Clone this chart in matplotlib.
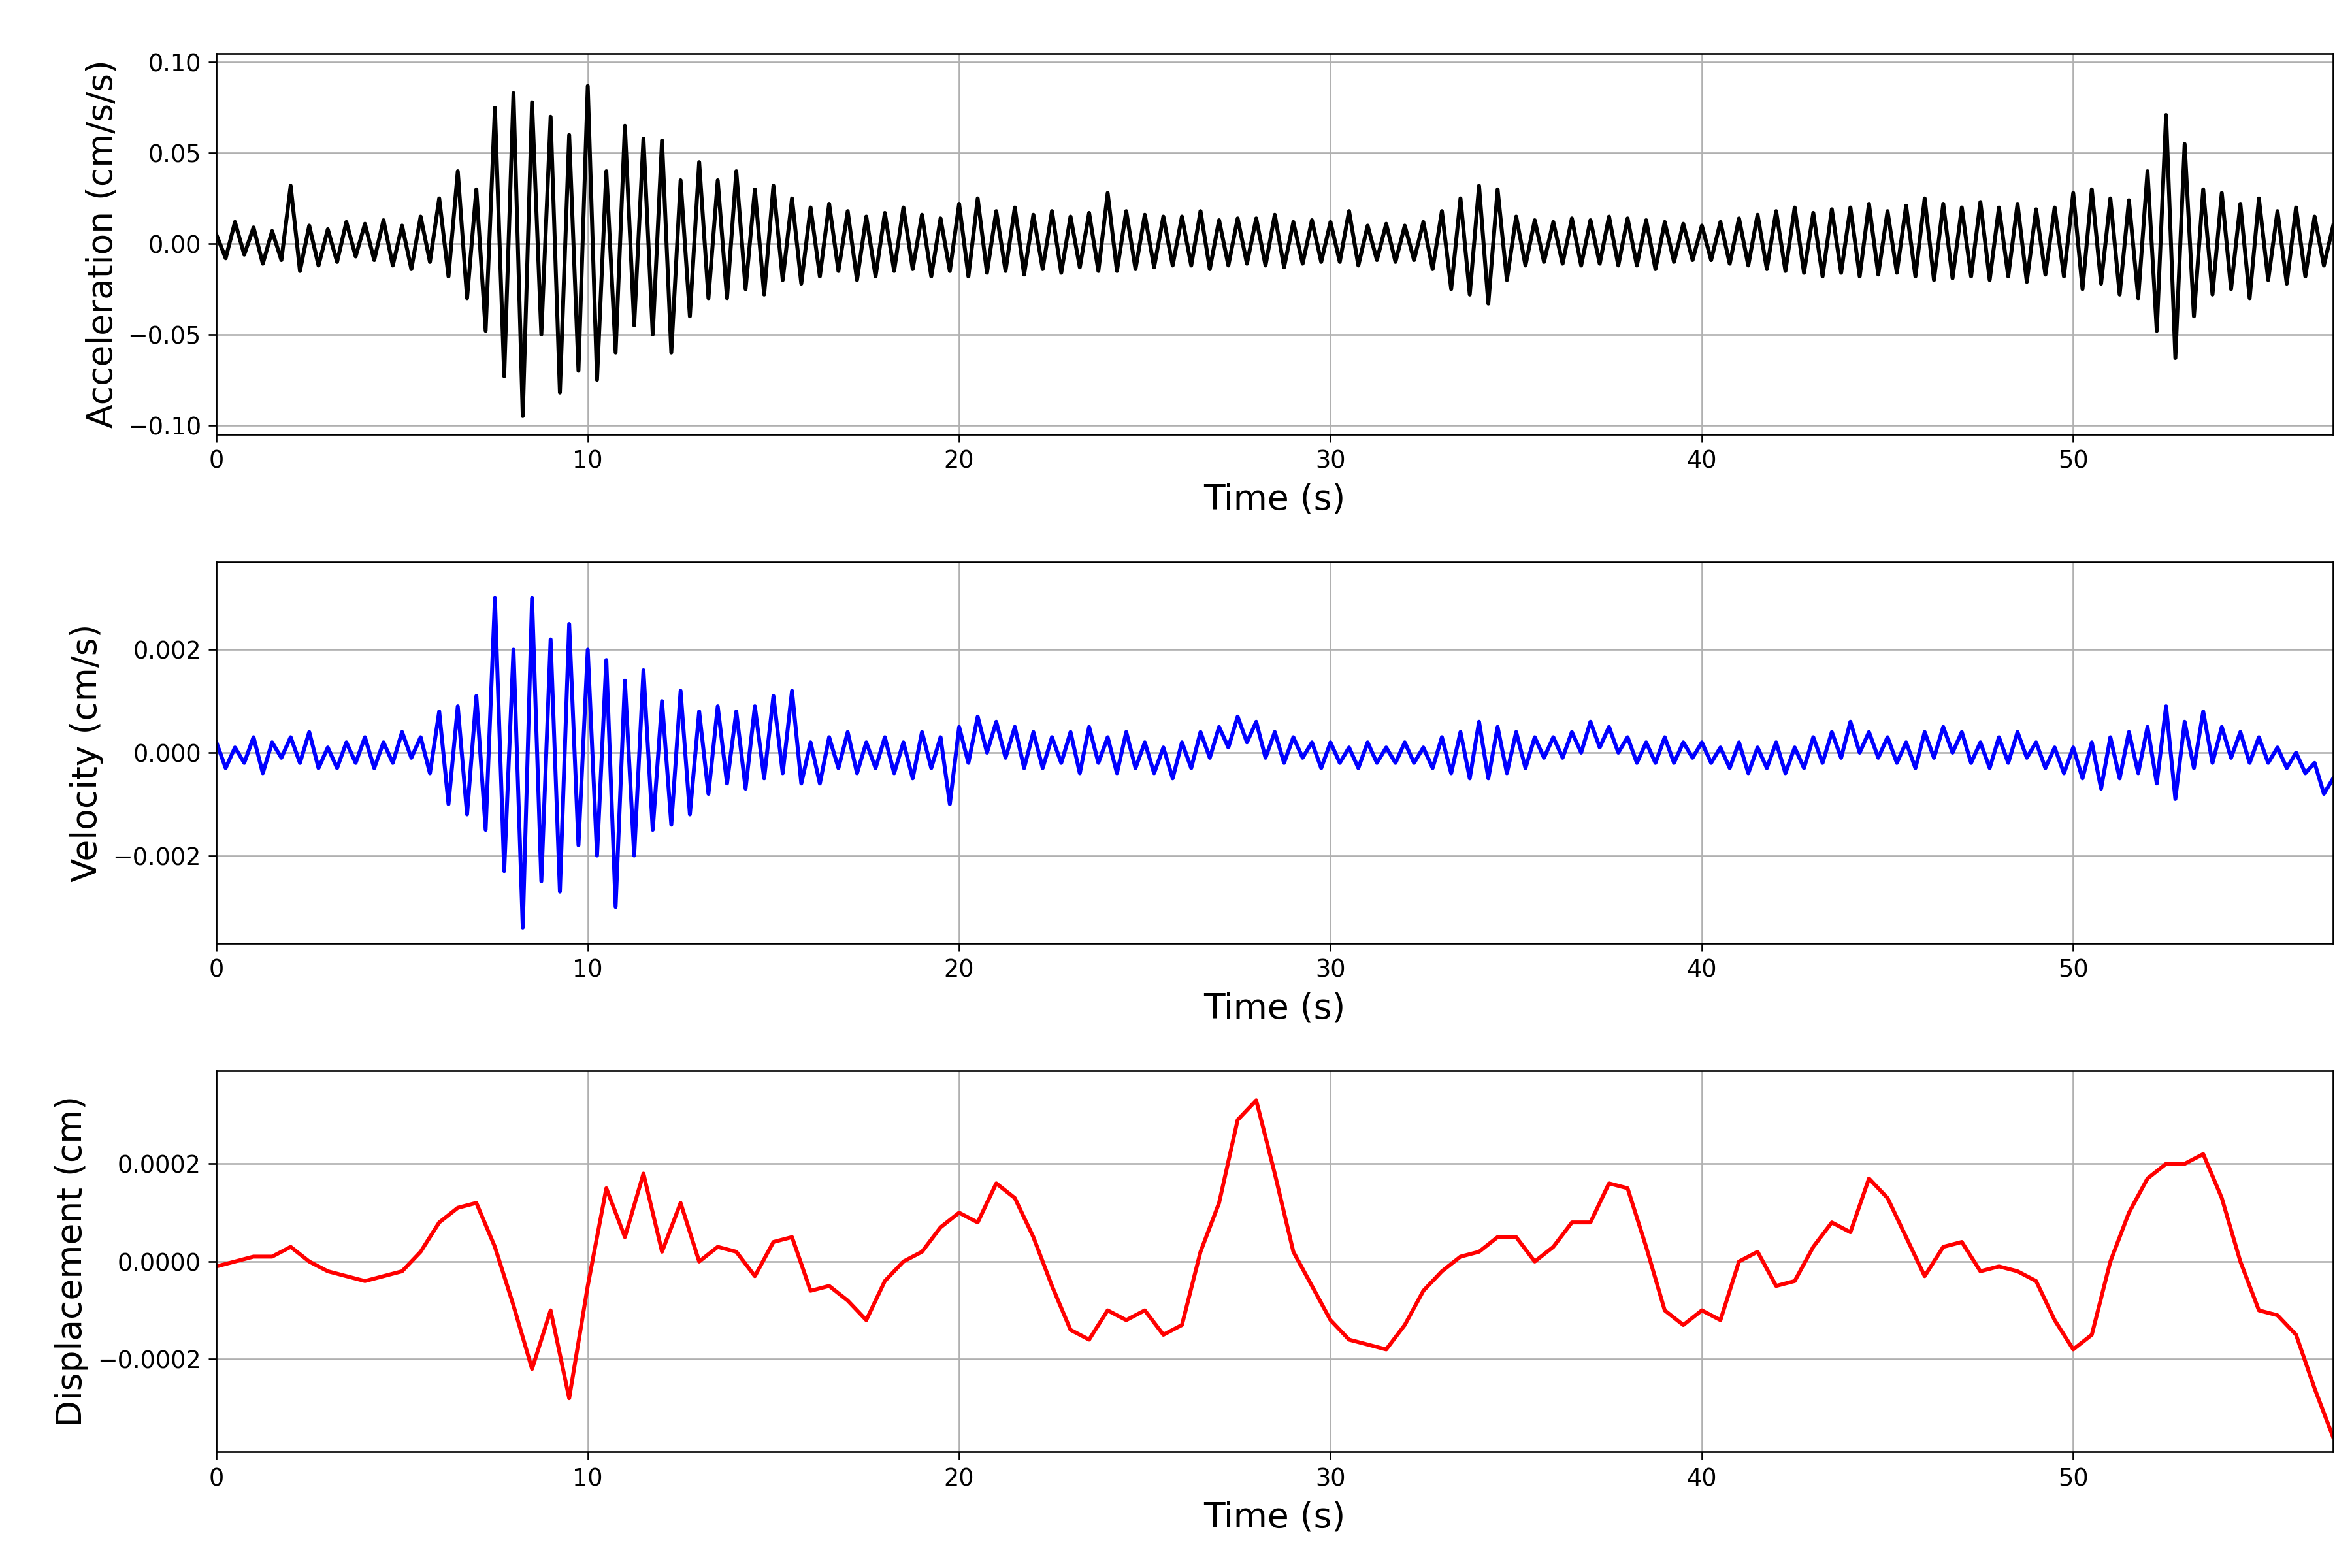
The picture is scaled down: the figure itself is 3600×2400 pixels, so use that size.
import numpy as np
import matplotlib
matplotlib.use("Agg")
import matplotlib.pyplot as plt
from matplotlib.ticker import MultipleLocator

acc_dt = 0.25
acc = [0.005,-0.008,0.012,-0.006,0.009,-0.011,0.007,-0.009,
0.032,-0.015,0.010,-0.012,0.008,-0.010,0.012,-0.007,
0.011,-0.009,0.013,-0.012,0.010,-0.014,0.015,-0.010,
0.025,-0.018,0.040,-0.030,0.030,-0.048,0.075,-0.073,
0.083,-0.095,0.078,-0.050,0.070,-0.082,0.060,-0.070,
0.087,-0.075,0.040,-0.060,0.065,-0.045,0.058,-0.050,
0.057,-0.060,0.035,-0.040,0.045,-0.030,0.035,-0.030,
0.040,-0.025,0.030,-0.028,0.032,-0.020,0.025,-0.022,
0.020,-0.018,0.022,-0.015,0.018,-0.020,0.015,-0.018,
0.017,-0.015,0.020,-0.014,0.016,-0.018,0.014,-0.015,
0.022,-0.018,0.025,-0.016,0.018,-0.015,0.020,-0.017,
0.016,-0.014,0.018,-0.016,0.015,-0.013,0.017,-0.015,
0.028,-0.015,0.018,-0.014,0.016,-0.013,0.015,-0.012,
0.015,-0.012,0.018,-0.014,0.013,-0.012,0.014,-0.011,
0.014,-0.012,0.016,-0.013,0.012,-0.011,0.013,-0.010,
0.012,-0.010,0.018,-0.012,0.010,-0.009,0.011,-0.010,
0.010,-0.009,0.012,-0.014,0.018,-0.025,0.025,-0.028,
0.032,-0.033,0.030,-0.020,0.015,-0.012,0.013,-0.010,
0.012,-0.011,0.014,-0.012,0.013,-0.011,0.015,-0.012,
0.014,-0.012,0.013,-0.014,0.012,-0.010,0.011,-0.009,
0.010,-0.009,0.012,-0.011,0.014,-0.012,0.016,-0.014,
0.018,-0.015,0.020,-0.016,0.017,-0.018,0.019,-0.016,
0.020,-0.018,0.022,-0.017,0.018,-0.016,0.021,-0.018,
0.025,-0.020,0.022,-0.019,0.020,-0.018,0.023,-0.020,
0.020,-0.018,0.022,-0.021,0.019,-0.017,0.020,-0.018,
0.028,-0.025,0.030,-0.022,0.025,-0.028,0.024,-0.030,
0.040,-0.048,0.071,-0.063,0.055,-0.040,0.030,-0.028,
0.028,-0.025,0.022,-0.030,0.025,-0.020,0.018,-0.022,
0.020,-0.018,0.015,-0.012,0.010]

vel_dt = 0.25
vel = [0.0002,-0.0003,0.0001,-0.0002,0.0003,-0.0004,0.0002,-0.0001,
0.0003,-0.0002,0.0004,-0.0003,0.0001,-0.0003,0.0002,-0.0002,
0.0003,-0.0003,0.0002,-0.0002,0.0004,-0.0001,0.0003,-0.0004,
0.0008,-0.0010,0.0009,-0.0012,0.0011,-0.0015,0.0030,-0.0023,
0.0020,-0.0034,0.0030,-0.0025,0.0022,-0.0027,0.0025,-0.0018,
0.0020,-0.0020,0.0018,-0.0030,0.0014,-0.0020,0.0016,-0.0015,
0.0010,-0.0014,0.0012,-0.0012,0.0008,-0.0008,0.0009,-0.0006,
0.0008,-0.0007,0.0009,-0.0005,0.0011,-0.0004,0.0012,-0.0006,
0.0002,-0.0006,0.0003,-0.0003,0.0004,-0.0004,0.0002,-0.0003,
0.0003,-0.0004,0.0002,-0.0005,0.0004,-0.0003,0.0003,-0.0010,
0.0005,-0.0002,0.0007,0.0000,0.0006,-0.0001,0.0005,-0.0003,
0.0004,-0.0003,0.0003,-0.0002,0.0004,-0.0004,0.0005,-0.0002,
0.0003,-0.0004,0.0004,-0.0003,0.0002,-0.0004,0.0001,-0.0005,
0.0002,-0.0003,0.0004,-0.0001,0.0005,0.0001,0.0007,0.0002,
0.0006,-0.0001,0.0004,-0.0002,0.0003,-0.0001,0.0002,-0.0003,
0.0002,-0.0002,0.0001,-0.0003,0.0002,-0.0002,0.0001,-0.0002,
0.0002,-0.0002,0.0001,-0.0003,0.0003,-0.0004,0.0004,-0.0005,
0.0006,-0.0005,0.0005,-0.0004,0.0004,-0.0003,0.0003,-0.0001,
0.0003,-0.0001,0.0004,0.0000,0.0006,0.0001,0.0005,0.0000,
0.0003,-0.0002,0.0002,-0.0002,0.0003,-0.0002,0.0002,-0.0001,
0.0002,-0.0002,0.0001,-0.0003,0.0002,-0.0004,0.0001,-0.0003,
0.0002,-0.0004,0.0001,-0.0003,0.0003,-0.0002,0.0004,-0.0001,
0.0006,0.0000,0.0004,-0.0001,0.0003,-0.0002,0.0002,-0.0003,
0.0004,-0.0001,0.0005,0.0000,0.0004,-0.0002,0.0002,-0.0003,
0.0003,-0.0002,0.0004,-0.0001,0.0002,-0.0003,0.0001,-0.0004,
0.0001,-0.0005,0.0002,-0.0007,0.0003,-0.0005,0.0004,-0.0004,
0.0005,-0.0006,0.0009,-0.0009,0.0006,-0.0003,0.0008,-0.0002,
0.0005,-0.0001,0.0004,-0.0002,0.0003,-0.0002,0.0001,-0.0003,
0.0000,-0.0004,-0.0002,-0.0008,-0.0005]

disp_dt = 0.5
disp_e4 = [-0.1,0,0.1,0.1,0.3,0,-0.2,-0.3,-0.4,-0.3,-0.2,0.2,0.8,1.1,1.2,0.3,-0.9,-2.2,-1.0,-2.8,
-0.5,1.5,0.5,1.8,0.2,1.2,0.0,0.3,0.2,-0.3,0.4,0.5,-0.6,-0.5,-0.8,-1.2,-0.4,0.0,0.2,0.7,
1.0,0.8,1.6,1.3,0.5,-0.5,-1.4,-1.6,-1.0,-1.2,-1.0,-1.5,-1.3,0.2,1.2,2.9,3.3,1.8,0.2,-0.5,
-1.2,-1.6,-1.7,-1.8,-1.3,-0.6,-0.2,0.1,0.2,0.5,0.5,0.0,0.3,0.8,0.8,1.6,1.5,0.3,-1.0,-1.3,
-1.0,-1.2,0.0,0.2,-0.5,-0.4,0.3,0.8,0.6,1.7,1.3,0.5,-0.3,0.3,0.4,-0.2,-0.1,-0.2,-0.4,-1.2,
-1.8,-1.5,0.0,1.0,1.7,2.0,2.0,2.2,1.3,0.0,-1.0,-1.1,-1.5,-2.6,-3.6]

t_acc = np.arange(len(acc)) * acc_dt
t_vel = np.arange(len(vel)) * vel_dt
t_disp = np.arange(len(disp_e4)) * disp_dt
disp = np.array(disp_e4) * 1e-4

fig, axes = plt.subplots(3, 1, figsize=(15, 10), dpi=240)
fig.subplots_adjust(left=0.092, right=0.992, top=0.966, bottom=0.074, hspace=0.336)
specs = [(t_acc, acc, 'k', 'Acceleration (cm/s/s)', (-0.105, 0.105), 0.05),
         (t_vel, vel, 'b', 'Velocity (cm/s)', (-0.0037, 0.0037), 0.002),
         (t_disp, disp, 'r', 'Displacement (cm)', (-0.00039, 0.00039), 0.0002)]
for ax, (t, y, c, lab, yl, step) in zip(axes, specs):
    ax.plot(t, y, color=c, lw=1.8)
    ax.set_xlim(0, 57)
    ax.set_ylim(*yl)
    ax.yaxis.set_major_locator(MultipleLocator(step))
    ax.grid(True)
    ax.set_xlabel('Time (s)', fontsize=16)
    ax.set_ylabel(lab, fontsize=16)
    ax.tick_params(labelsize=11)
fig.savefig('out.png')
